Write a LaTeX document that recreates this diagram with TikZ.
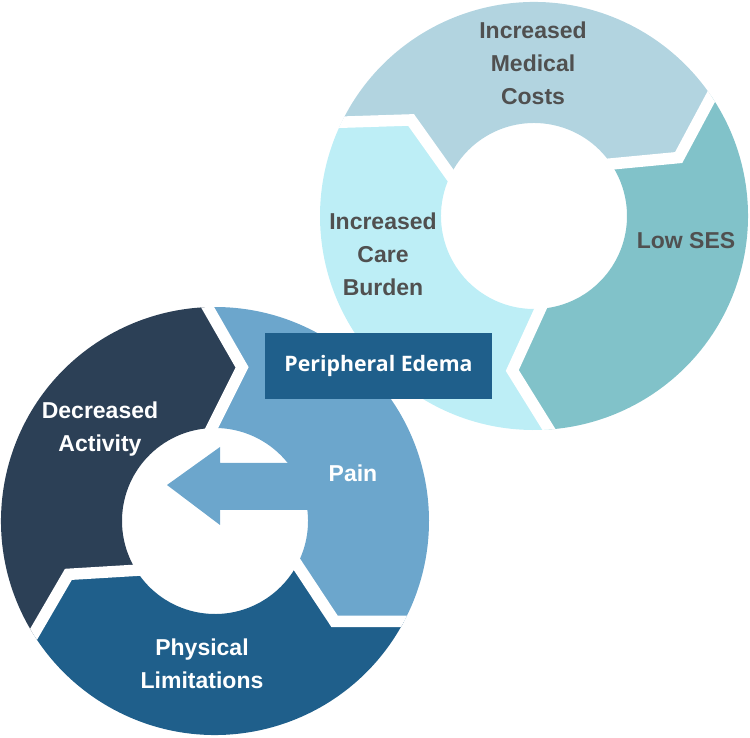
\documentclass[tikz,border=0pt]{standalone}
\usepackage{fontspec}
\setmainfont{Liberation Sans}
\newfontfamily\labelfont{Liberation Sans}
\newfontfamily\edemafont{Open Sans}
\usetikzlibrary{calc}
\definecolor{costs}{HTML}{B2D4E0}
\definecolor{care}{HTML}{BDEEF6}
\definecolor{ses}{HTML}{81C2C9}
\definecolor{decact}{HTML}{2C4056}
\definecolor{pain}{HTML}{6CA6CC}
\definecolor{physlim}{HTML}{1F5F8B}
\definecolor{edemabox}{HTML}{1F5F8B}
\definecolor{greytext}{HTML}{505050}
\def\Ro{214pt}
\def\Rm{156pt}
\def\Ri{93pt}
% segment from start boundary #1 clockwise 120 degrees, fill #2
\newcommand{\ringseg}[2]{%
  \fill[#2] (#1:\Ro) arc[start angle=#1, end angle={#1-120}, radius=\Ro]
    -- ({#1-132}:\Rm) -- ({#1-120}:\Ri)
    arc[start angle={#1-120}, end angle=#1, radius=\Ri]
    -- ({#1-12}:\Rm) -- cycle;}
\newcommand{\ringgap}[1]{%
  \draw[gapline] ($({#1-12}:\Rm)!1.25!(#1:\Ro)$) -- ({#1-12}:\Rm) -- ($({#1-12}:\Rm)!1.15!(#1:\Ri)$);}
\tikzset{
  gapline/.style={white, line width=11.5pt, line join=miter},
  toplabel/.style={text=greytext, font=\labelfont\bfseries\fontsize{23}{33}\selectfont, align=center, inner sep=0pt},
  botlabel/.style={text=white, font=\labelfont\bfseries\fontsize{23}{33}\selectfont, align=center, inner sep=0pt},
}
\begin{document}
\begin{tikzpicture}[x=1pt, y=1pt]
\useasboundingbox (0,0) rectangle (750,737);
% top-right ring
\begin{scope}[shift={(534,521)}]
  \ringseg{154}{costs}
  \ringseg{34}{ses}
  \ringseg{-86}{care}
  \begin{scope}
    \clip (0,0) circle (\Ro);
    \ringgap{154}
    \ringgap{34}
    \ringgap{-86}
  \end{scope}
\end{scope}
% bottom-left ring
\begin{scope}[shift={(215,216)}]
  \ringseg{92}{pain}
  \ringseg{-28}{physlim}
  \ringseg{212}{decact}
  \begin{scope}
    \clip (0,0) circle (\Ro);
    \ringgap{92}
    \ringgap{-28}
    \ringgap{212}
  \end{scope}
\end{scope}
% arrow of Pain into the hole
\fill[pain] (167,252) -- (220,290) -- (220,274) -- (310,274) -- (310,227) -- (220,227) -- (220,212) -- cycle;
% labels
\node[toplabel] (costs) at (533,674) {Increased\\Medical\\Costs};
\node[toplabel] (care) at (383,483) {Increased\\Care\\Burden};
\node[toplabel] (ses) at (686,496) {Low SES};
\node[botlabel] (decact) at (100,308) {Decreased\\Activity};
\node[botlabel] (pain) at (353,264) {Pain};
\node[botlabel] (physlim) at (202,73) {Physical\\Limitations};
% edema box
\node[fill=edemabox, minimum width=227pt, minimum height=66pt, inner sep=0pt, text=white,
  font=\edemafont\bfseries\fontsize{21.3}{26}\selectfont] (edema) at (378.5,371) {Peripheral Edema};
\end{tikzpicture}
\end{document}
